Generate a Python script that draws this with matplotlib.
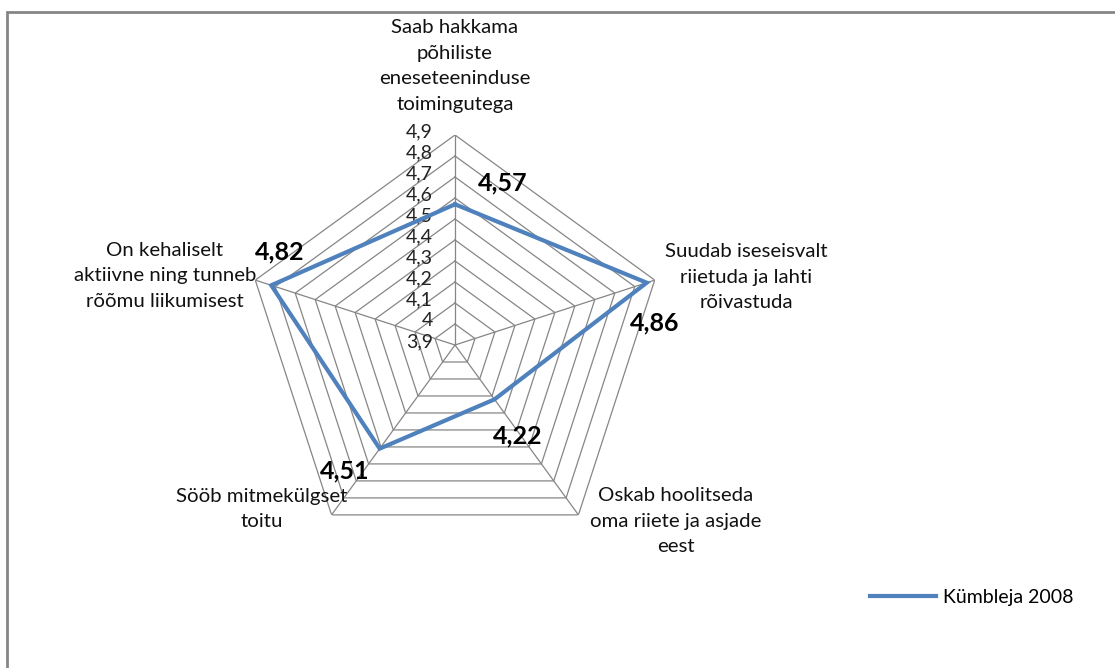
import numpy as np
import matplotlib.pyplot as plt
from matplotlib.patches import Rectangle

plt.rcParams['font.family'] = ['Lato', 'DejaVu Sans']

#************ data ******************
categories = ['Saab hakkama\npõhiliste\neneseteeninduse\ntoimingutega',
              'Suudab iseseisvalt\nriietuda ja lahti\nrõivastuda',
              'Oskab hoolitseda\noma riiete ja asjade\neest',
              'Sööb mitmekülgset\ntoitu',
              'On kehaliselt\naktiivne ning tunneb\nrõõmu liikumisest']
values = [4.57, 4.86, 4.22, 4.51, 4.82]
value_labels = ['4,57', '4,86', '4,22', '4,51', '4,82']
series_name = 'Kümbleja 2008'
r_levels = [3.9, 4.0, 4.1, 4.2, 4.3, 4.4, 4.5, 4.6, 4.7, 4.8, 4.9]
r_labels = ['3,9', '4', '4,1', '4,2', '4,3', '4,4', '4,5', '4,6', '4,7', '4,8', '4,9']
#************************************

W, H = 1115, 668
line_color = '#4F81BD'
grid_color = '#868686'

fig = plt.figure(figsize=(W / 100, H / 100), dpi=100)

# outer chart frame (cropped at right/bottom like the original)
fig.patches.append(Rectangle((7 / W, -0.1), 1.2, 1.1 - 12 / H,
                             transform=fig.transFigure, fill=False,
                             edgecolor=grid_color, linewidth=2))

cx, cy, rad = 455, 345, 210
ax = fig.add_axes([(cx - rad) / W, (H - cy - rad) / H, 2 * rad / W, 2 * rad / H],
                  projection='polar')
ax.set_theta_offset(np.pi / 2)
ax.set_theta_direction(-1)
ax.set_ylim(r_levels[0], r_levels[-1])
ax.grid(False)
ax.spines['polar'].set_visible(False)
ax.set_xticks([])
ax.set_yticks([])
ax.patch.set_visible(False)

n = len(categories)
theta = np.arange(n) * 2 * np.pi / n
theta_c = np.append(theta, theta[0])

# pentagon gridlines
for r in r_levels[1:]:
    ax.plot(theta_c, [r] * (n + 1), color=grid_color, lw=0.9, zorder=1)
for t in theta:
    ax.plot([t, t], [r_levels[0], r_levels[-1]], color=grid_color, lw=0.9, zorder=1)

# radial tick labels along the top spoke
for r, lab in zip(r_levels, r_labels):
    ax.annotate(lab, xy=(0, r), xytext=(-22, 3), textcoords='offset pixels',
                ha='right', va='center', fontsize=14, color='#222222',
                annotation_clip=False)

vals_c = np.append(values, values[0])
ax.plot(theta_c, vals_c, color=line_color, lw=3, zorder=3,
        solid_joinstyle='miter', label=series_name)

# category labels and value labels (pixel positions)
cat_pos = [(455, 66), (746, 277), (676, 521), (262, 509), (165, 276)]
val_pos = [(503, 183), (655, 323), (518, 436), (345, 471), (280, 252)]
for lab, (x, y) in zip(categories, cat_pos):
    fig.text(x / W, 1 - y / H, lab, ha='center', va='center', fontsize=14.7,
             linespacing=1.6, color='#111111')
for lab, (x, y) in zip(value_labels, val_pos):
    fig.text(x / W, 1 - y / H, lab, ha='center', va='center', fontsize=18,
             fontweight='bold', color='black')

leg = fig.legend(loc='center left', bbox_to_anchor=(862 / W, 1 - 597 / H),
                 frameon=False, fontsize=14, handlelength=3.4, handletextpad=0.35,
                 borderaxespad=0)

fig.savefig('out.png', dpi=100)
